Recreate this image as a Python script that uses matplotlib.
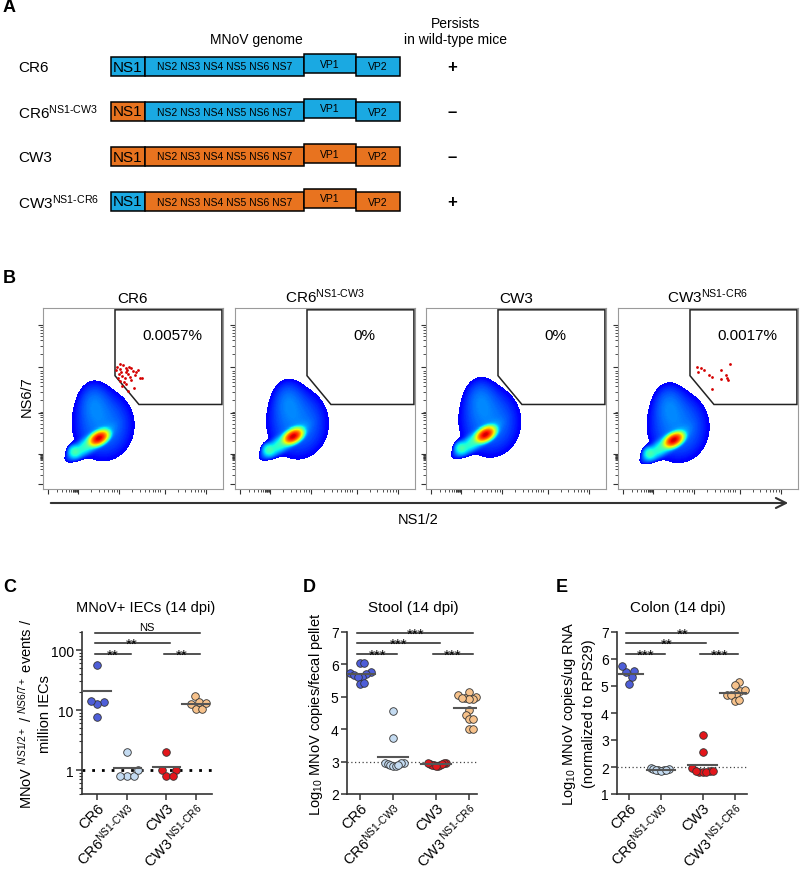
import numpy as np
import matplotlib
matplotlib.use('Agg')
import matplotlib.pyplot as plt
from matplotlib.patches import Rectangle, Polygon
from matplotlib.colors import ListedColormap
from matplotlib.transforms import offset_copy

plt.rcParams['font.family'] = ['Liberation Sans', 'DejaVu Sans']
plt.rcParams['mathtext.fontset'] = 'custom'
plt.rcParams['mathtext.rm'] = 'Liberation Sans'
plt.rcParams['mathtext.it'] = 'Liberation Sans:italic'
plt.rcParams['mathtext.bf'] = 'Liberation Sans:bold'

HY = '\u2010'  # real hyphen, mathtext turns '-' into a minus sign


def sup(base, s):
    return base + '$^{\\mathregular{%s}}$' % s if s else base


# ---------------- panel A: genome maps
strains = ['CR6', 'CR6', 'CW3', 'CW3']
strain_sup = ['', 'NS1' + HY + 'CW3', '', 'NS1' + HY + 'CR6']
ns1_from = ['CR6', 'CW3', 'CW3', 'CR6']
persists = ['+', '\u2013', '\u2013', '+']
segments = ['NS1', 'NS2 NS3 NS4 NS5 NS6 NS7', 'VP1', 'VP2']

# ---------------- panel B: flow plots
gate_pct = ['0.0057%', '0%', '0%', '0.0017%']
peak_x = [0.31, 0.32, 0.33, 0.31]
peak_y = [0.28, 0.29, 0.30, 0.27]
gate_x = [0.40, 0.40, 0.533, 0.994, 0.994]
gate_y = [0.99, 0.626, 0.467, 0.467, 0.99]
cr6_gated_x = [0.413, 0.426, 0.435, 0.444, 0.459, 0.467, 0.478, 0.491, 0.500, 0.422,
               0.441, 0.454, 0.472, 0.481, 0.509, 0.528, 0.537, 0.548, 0.417, 0.430,
               0.448, 0.463, 0.504, 0.474, 0.407, 0.437, 0.519, 0.459, 0.487, 0.426]
cr6_gated_y = [0.676, 0.663, 0.648, 0.685, 0.670, 0.657, 0.676, 0.667, 0.652, 0.633,
               0.626, 0.611, 0.633, 0.620, 0.630, 0.657, 0.611, 0.615, 0.611, 0.596,
               0.593, 0.578, 0.556, 0.544, 0.657, 0.570, 0.644, 0.644, 0.600, 0.689]
cw3ns1_gated_x = [0.441, 0.444, 0.463, 0.476, 0.506, 0.520, 0.570, 0.574, 0.598, 0.606,
                  0.609, 0.620, 0.524]
cw3ns1_gated_y = [0.672, 0.648, 0.667, 0.656, 0.630, 0.620, 0.657, 0.607, 0.630, 0.615,
                  0.604, 0.689, 0.552]
gated_x = [cr6_gated_x, [], [], cw3ns1_gated_x]
gated_y = [cr6_gated_y, [], [], cw3ns1_gated_y]

# ---------------- panels C-E: dot plots
iec_cr6 = [56, 13.4, 12.6, 14.3, 7.6]
iec_cr6_ns1 = [2.0, 0.8, 0.8, 0.8, 1.0]
iec_cw3 = [2.0, 1.0, 1.0, 0.8, 0.8]
iec_cw3_ns1 = [17, 12.5, 10.5, 10.5, 13.5, 13]
stool_cr6 = [6.05, 6.05, 5.78, 5.72, 5.70, 5.68, 5.62, 5.60, 5.40, 5.42]
stool_cr6_ns1 = [4.55, 3.73, 2.97, 2.95, 2.95, 2.92, 2.88, 2.85, 2.85, 2.88]
stool_cw3 = [2.97, 2.95, 2.93, 2.90, 2.88, 2.87, 2.90, 2.92, 2.85, 2.95]
stool_cw3_ns1 = [5.15, 5.05, 5.0, 4.95, 4.93, 4.92, 4.95, 4.6, 4.45, 4.3, 4.3, 4.0, 4.0]
colon_cr6 = [5.57, 5.51, 5.73, 5.32, 5.07]
colon_cr6_ns1 = [1.95, 1.92, 1.90, 1.88, 1.90, 1.93, 1.87, 1.90]
colon_cw3 = [3.17, 2.55, 1.95, 1.85, 1.82, 1.80, 1.80, 1.85, 1.85]
colon_cw3_ns1 = [5.13, 5.02, 4.82, 4.85, 4.68, 4.70, 4.65, 4.45, 4.48]
stats_iec = [(0, 1, '**'), (0, 2, '**'), (0, 3, 'NS'), (2, 3, '**')]
stats_stool = [(0, 1, '***'), (0, 2, '***'), (0, 3, '***'), (2, 3, '***')]
stats_colon = [(0, 1, '***'), (0, 2, '**'), (0, 3, '**'), (2, 3, '***')]

flow_titles = [sup(strains[i], strain_sup[i]) for i in range(4)]
groups = ['CR6', sup('CR6', 'NS1' + HY + 'CW3'), 'CW3', sup('CW3', '\\,NS1' + HY + 'CR6')]

W, H = 800, 870
genome_col = {'CR6': '#1AA9E2', 'CW3': '#E8731F'}
group_col = ['#4E5ED8', '#C4DBF1', '#E3161B', '#F7C28B']

fig = plt.figure(figsize=(W / 100, H / 100), dpi=100)
ov = fig.add_axes([0, 0, 1, 1])
ov.set_xlim(0, W)
ov.set_ylim(H, 0)
ov.axis('off')


def px_axes(x, y_top, w, h):
    return fig.add_axes([x / W, 1 - (y_top + h) / H, w / W, h / H])


# panel letters
for lab, x, y in [('A', 3, 8), ('B', 3, 279), ('C', 3, 588), ('D', 303, 588), ('E', 556, 588)]:
    ov.text(x, y, lab, fontsize=13, fontweight='bold', va='center', ha='left')

# ---------------- A
seg_edges = [111, 145, 304, 356, 400]
ov.text(256, 40, 'MNoV genome', fontsize=10, ha='center', va='center')
ov.text(456, 32, 'Persists\nin wild-type mice', fontsize=10, ha='center', va='center',
        linespacing=1.25)
for i in range(4):
    yc = 67.5 + 45 * i
    ov.text(18, yc, sup(strains[i], strain_sup[i]), fontsize=11, va='center', ha='left')
    for k, seg in enumerate(segments):
        x0, x1 = seg_edges[k], seg_edges[k + 1]
        col = genome_col[ns1_from[i]] if k == 0 else genome_col[strains[i]]
        shift = -3 if seg == 'VP1' else 0
        ov.add_patch(Rectangle((x0, yc - 9.5 + shift), x1 - x0, 19, facecolor=col,
                               edgecolor='black', lw=1.1))
        fs = 11 if k == 0 else 7.5
        ov.text((x0 + x1) / 2, yc + shift, seg, fontsize=fs, ha='center', va='center')
    ov.text(452, yc, persists[i], fontsize=12, fontweight='bold', ha='center', va='center')

# ---------------- B
jet = plt.get_cmap('jet')
flow_cmap = ListedColormap(jet(np.linspace(0.11, 0.93, 256)))
blob_parts = [  # dx, dy, sd along, sd across, angle, weight
    (0.0, 0.0, 0.022, 0.013, 30, 1.0),
    (-0.05, -0.03, 0.065, 0.02, 35, 0.006),
    (-0.135, -0.075, 0.018, 0.018, 0, 0.005),
    (0.025, 0.07, 0.105, 0.12, 0, 0.001),
    (-0.03, 0.2, 0.05, 0.07, 0, 0.0006),
]
vmin = -3.6
grid = np.linspace(0, 1, 361)
GX, GY = np.meshgrid(grid, grid)

dec = 0.24
majors = [0.03, 0.194, 0.422, 0.676, 0.907]
minors = []
for d0 in [0.194, 0.422, 0.676]:
    minors += [d0 + np.log10(k) * dec for k in range(2, 10)]
minors += [0.03 + np.log10(k) * 0.164 for k in range(2, 10)]
minors += [0.194 - 0.006 * k for k in range(1, 6)]

flow_left = [43, 235, 426, 618]
for i in range(4):
    ax = px_axes(flow_left[i], 309, 180, 181)
    dens = np.zeros_like(GX)
    for dx, dy, a, b, ang, w in blob_parts:
        t = np.deg2rad(ang)
        ux = GX - peak_x[i] - dx
        uy = GY - peak_y[i] - dy
        u = ux * np.cos(t) + uy * np.sin(t)
        v = -ux * np.sin(t) + uy * np.cos(t)
        dens += w * np.exp(-0.5 * ((u / a) ** 2 + (v / b) ** 2))
    lv = np.ma.masked_less(np.log10(dens / dens.max()), vmin)
    ax.imshow(lv, extent=(0, 1, 0, 1), origin='lower', cmap=flow_cmap, vmin=vmin, vmax=0,
              interpolation='nearest', aspect='auto')
    ax.add_patch(Polygon(list(zip(gate_x, gate_y)), closed=True, fill=False,
                         edgecolor='#222222', lw=1.1))
    ax.scatter(gated_x[i], gated_y[i], s=4, color='#D40000', lw=0, zorder=3)
    ax.text(0.72, 0.85, gate_pct[i], fontsize=11, ha='center', va='center')
    ax.set_xlim(0, 1)
    ax.set_ylim(0, 1)
    for sp in ax.spines.values():
        sp.set_color('#9a9a9a')
        sp.set_linewidth(0.8)
    ax.set_xticks(majors)
    ax.set_yticks(majors)
    ax.set_xticks(minors, minor=True)
    ax.set_yticks(minors, minor=True)
    ax.set_xticklabels([])
    ax.set_yticklabels([])
    ax.tick_params(which='major', length=3.5, width=0.8, color='#333333', direction='out')
    ax.tick_params(which='minor', length=2, width=0.6, color='#333333', direction='out')
    ax.set_title(flow_titles[i], fontsize=11, pad=4)

ov.annotate('', xy=(791, 504), xytext=(48, 504),
            arrowprops=dict(arrowstyle='->', lw=1.5, color='#333333', mutation_scale=18))
ov.text(418, 520, 'NS1/2', fontsize=10.5, ha='center', va='center')
ov.text(27, 397, 'NS6/7', fontsize=10.5, ha='center', va='center', rotation=90)

# ---------------- C-E
positions = np.array([0, 1, 2.3, 3.3])
panels = [
    dict(x=82, origin=97, unit=30, data=[iec_cr6, iec_cr6_ns1, iec_cw3, iec_cw3_ns1],
         stats=stats_iec, title='MNoV+ IECs (14 dpi)', tfs=10.5, log=True,
         ylim=(0.4, 200), yticks=[1, 10, 100], lod=1, ppy=60,
         ylab='MNoV $^{NS1/2+}$ / $^{NS6/7+}$ events /\nmillion IECs', lx=34, tx=146),
    dict(x=347, origin=360, unit=33, data=[stool_cr6, stool_cr6_ns1, stool_cw3, stool_cw3_ns1],
         stats=stats_stool, title='Stool (14 dpi)', tfs=11, log=False,
         ylim=(2, 7), yticks=[2, 3, 4, 5, 6, 7], lod=3, ppy=32.4,
         ylab='Log$_{10}$ MNoV copies/fecal pellet', lx=316, tx=413),
    dict(x=617, origin=629, unit=32, data=[colon_cr6, colon_cr6_ns1, colon_cw3, colon_cw3_ns1],
         stats=stats_colon, title='Colon (14 dpi)', tfs=11, log=False,
         ylim=(1, 7), yticks=[1, 2, 3, 4, 5, 6, 7], lod=2, ppy=27,
         ylab='Log$_{10}$ MNoV copies/ug RNA\n(normalized to RPS29)', lx=578, tx=678),
]


def swarm(vals, diam, cap):
    # beeswarm offsets in pixels, squeezed so a cloud is never wider than 2*cap
    order = np.argsort(vals, kind='stable')
    placed = []
    offs = np.zeros(len(vals))
    for i in order:
        y = vals[i]
        cands = [0.0]
        for px, py in placed:
            dy = abs(y - py)
            if dy < diam:
                dx = np.sqrt(diam ** 2 - dy ** 2)
                cands += [px + dx, px - dx]
        cands.sort(key=lambda c: (abs(c), -c))
        for c in cands:
            if all((c - px) ** 2 + (y - py) ** 2 >= diam ** 2 - 1e-6 for px, py in placed):
                offs[i] = c
                break
        placed.append((offs[i], y))
    mx = np.abs(offs).max()
    if mx > cap:
        offs = offs * cap / mx
    return offs


for p in panels:
    ax = px_axes(p['x'], 633, 130, 162)
    x_lo = (p['x'] - p['origin']) / p['unit']
    x_hi = (p['x'] + 130 - p['origin']) / p['unit']
    for g, vals in enumerate(p['data']):
        vals = np.array(vals, dtype=float)
        ypx = (np.log10(vals) if p['log'] else vals) * p['ppy']
        xo = swarm(ypx, 7.2, 10.5) / p['unit']
        ax.scatter(positions[g] + xo, vals, s=30, color=group_col[g], edgecolor='#333333',
                   linewidth=0.6, zorder=3, clip_on=False)
        m = vals.mean()
        ax.plot([positions[g] - 0.45, positions[g] + 0.45], [m, m], color='#555555', lw=1.5,
                zorder=4)
    if p['log']:
        ax.set_yscale('log')
        ax.axhline(p['lod'], color='black', lw=2, ls=(0, (1, 2.5)), zorder=1)
    else:
        ax.axhline(p['lod'], color='#444444', lw=0.9, ls=(0, (1, 2)), zorder=1)
    ax.set_ylim(*p['ylim'])
    ax.set_xlim(x_lo, x_hi)
    ax.set_yticks(p['yticks'])
    ax.set_yticklabels([str(t) for t in p['yticks']], fontsize=10)
    ax.set_xticks(positions)
    ax.set_xticklabels(groups, rotation=45, ha='right', va='top', rotation_mode='anchor',
                       fontsize=10.5)
    ax.spines['top'].set_visible(False)
    ax.spines['right'].set_visible(False)
    for s in ['left', 'bottom']:
        ax.spines[s].set_linewidth(1.2)
        ax.spines[s].set_color('#333333')
    ax.tick_params(which='major', length=4, width=1.1, color='#333333', pad=2)
    ax.tick_params(axis='x', pad=0.5)
    ax.tick_params(which='minor', length=2, width=0.8, color='#333333')
    # significance bars
    tr = ax.get_xaxis_transform()
    levels = [0.862, 0.93, 0.995]
    for i, j, lab in p['stats']:
        lev = levels[0] if j - i == 1 else (levels[1] if (i, j) == (0, 2) else levels[2])
        x0, x1 = positions[i] - 0.08, positions[j] + 0.12
        ax.plot([x0, x1], [lev, lev], transform=tr, color='#222222', lw=1.1, clip_on=False)
        if lab == 'NS':
            ttr = offset_copy(tr, fig=fig, y=2, units='points')
            ax.text((x0 + x1) / 2, lev, lab, transform=ttr, fontsize=8, ha='center',
                    va='baseline')
        else:
            ttr = offset_copy(tr, fig=fig, y=-3.5, units='points')
            ax.text((x0 + x1) / 2, lev, lab, transform=ttr, fontsize=11, ha='center',
                    va='baseline')
    ov.text(p['tx'], 608, p['title'], fontsize=p['tfs'], ha='center', va='center')
    ov.text(p['lx'], 714, p['ylab'], fontsize=10.5, ha='center', va='center', rotation=90,
            linespacing=1.3)

fig.savefig('out.png', dpi=100)
